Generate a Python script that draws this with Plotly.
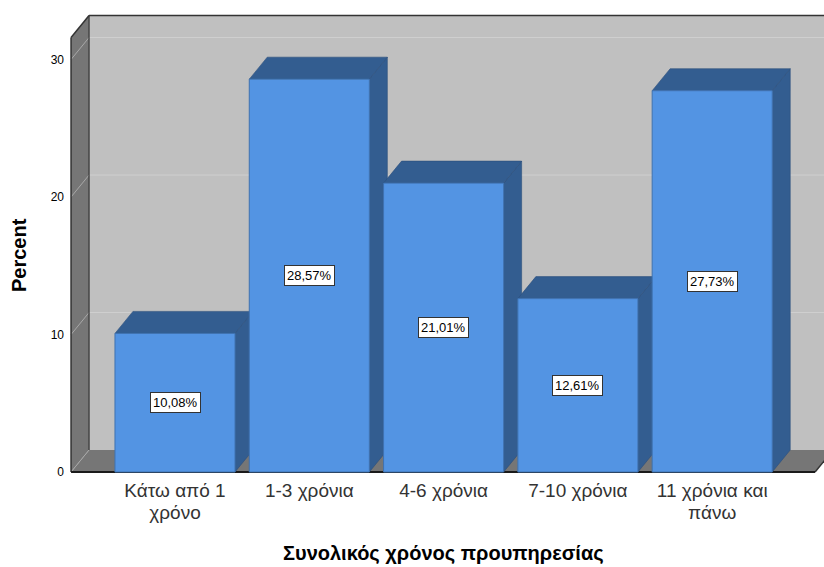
import plotly.graph_objects as go

# Data: share of respondents by total years of service
categories = ["Κάτω από 1<br>χρόνο", "1-3 χρόνια", "4-6 χρόνια", "7-10 χρόνια", "11 χρόνια και<br>πάνω"]
percents = [10.08, 28.57, 21.01, 12.61, 27.73]
y_ticks = [0, 10, 20, 30]

# 3D-look geometry, in axis units
BAR_W = 0.894          # bar width (category units)
DX = 0.134             # depth offset along x
DY = 1.6               # depth offset along y
X_LO, X_HI = -0.774, 4.766
Y_TOP = 31.6

BACK = "#c0c0c0"
WALL = "#767676"
FRONT = "#5394e3"
SIDE = "#335d90"
EDGE = "#333333"

FONT = "Arial, Liberation Sans, sans-serif"


def poly(pts):
    return "M " + " L ".join(f"{x},{y}" for x, y in pts) + " Z"


def seg(x0, y0, x1, y1, color, width):
    return dict(type="line", xref="x", yref="y", x0=x0, y0=y0, x1=x1, y1=y1,
                line=dict(color=color, width=width), layer="below")


def face(pts, color, line_color=None):
    return dict(type="path", xref="x", yref="y", path=poly(pts), fillcolor=color,
                line=dict(color=line_color or color, width=0.6 if line_color else 0),
                layer="below")


def big_lines(label, size):
    # larger glyphs while keeping the tighter line pitch of the base tick font
    return "<br>".join(f'<span style="font-size:{size}px">{part}</span>'
                       for part in label.split("<br>"))


shapes = []
# back wall, left wall, floor
shapes.append(face([(X_LO + DX, DY), (X_HI + DX, DY), (X_HI + DX, Y_TOP + DY), (X_LO + DX, Y_TOP + DY)], BACK))
shapes.append(face([(X_LO, 0), (X_LO + DX, DY), (X_LO + DX, Y_TOP + DY), (X_LO, Y_TOP)], WALL))
shapes.append(face([(X_LO, 0), (X_HI, 0), (X_HI + DX, DY), (X_LO + DX, DY)], WALL))

# gridlines on the walls
for t in y_ticks:
    shapes.append(seg(X_LO, t, X_LO + DX, t + DY, "#a8a8a8", 1))
    if t > 0:
        shapes.append(seg(X_LO + DX, t + DY, X_HI + DX, t + DY, "#cfcfcf", 1))

# wall outlines
shapes.append(seg(X_LO, 0, X_LO, Y_TOP, EDGE, 1.5))
shapes.append(seg(X_LO, Y_TOP, X_LO + DX, Y_TOP + DY, EDGE, 1.5))
shapes.append(seg(X_LO + DX, Y_TOP + DY, X_HI + DX, Y_TOP + DY, EDGE, 1.5))
shapes.append(seg(X_LO + DX, DY, X_LO + DX, Y_TOP + DY, EDGE, 1.2))
shapes.append(seg(X_HI, 0, X_HI + DX, DY, EDGE, 1.5))
shapes.append(seg(X_LO, 0, X_HI, 0, "#1a1a1a", 2))

# side and top faces of each bar
for i, v in enumerate(percents):
    x0, x1 = i - BAR_W / 2, i + BAR_W / 2
    shapes.append(face([(x1, 0), (x1 + DX, DY), (x1 + DX, v + DY), (x1, v)], SIDE, "#2b4f7c"))
    shapes.append(face([(x0, v), (x1, v), (x1 + DX, v + DY), (x0 + DX, v + DY)], SIDE, "#2b4f7c"))

fig = go.Figure()
fig.add_trace(go.Bar(
    x=list(range(len(percents))), y=percents, width=BAR_W,
    marker=dict(color=FRONT, line=dict(color="#3f72b0", width=1)),
    hoverinfo="skip",
))

annotations = []
for i, v in enumerate(percents):
    annotations.append(dict(
        x=i, y=v / 2, xref="x", yref="y", showarrow=False,
        text=f"{v:.2f}".replace(".", ",") + "%",
        font=dict(family=FONT, size=13, color="#000000"),
        bgcolor="#ffffff", bordercolor="#333333", borderwidth=1, borderpad=2,
    ))

annotations.append(dict(
    x=(19 - 68) / 756, y=(475 - 255) / 465, xref="paper", yref="paper",
    xanchor="center", yanchor="middle", showarrow=False,
    text="<b>Percent</b>", textangle=-90,
    font=dict(family=FONT, size=20, color="#000000"),
))
annotations.append(dict(
    x=(443 - 68) / 756, y=(475 - 553) / 465, xref="paper", yref="paper",
    xanchor="center", yanchor="middle", showarrow=False,
    text="<b>Συνολικός χρόνος προυπηρεσίας</b>",
    font=dict(family=FONT, size=20, color="#000000"),
))

fig.update_layout(
    width=824, height=567,
    margin=dict(l=68, r=0, t=10, b=92),
    paper_bgcolor="#ffffff", plot_bgcolor="#ffffff",
    showlegend=False,
    shapes=shapes,
    annotations=annotations,
    xaxis=dict(
        range=[(68 - 175) / 134.3, (68 - 175) / 134.3 + 756 / 134.3],
        tickvals=list(range(len(categories))),
        ticktext=[big_lines(c, 19) for c in categories],
        tickfont=dict(family=FONT, size=17, color="#333333"),
        showgrid=False, zeroline=False, showline=False, ticks="",
        ticklabelstandoff=4, fixedrange=True,
    ),
    yaxis=dict(
        range=[(472 - 475) / 13.75, (472 - 10) / 13.75],
        tickvals=y_ticks, ticktext=[str(t) for t in y_ticks],
        tickfont=dict(family=FONT, size=12, color="#000000"),
        showgrid=False, zeroline=False, showline=False, ticks="",
        ticklabelstandoff=3, fixedrange=True,
    ),
)

fig.write_html("out.html")
